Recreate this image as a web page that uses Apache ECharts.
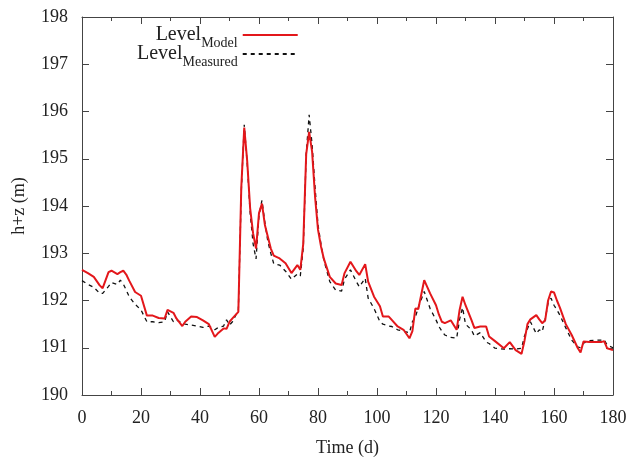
<!DOCTYPE html>
<html>
<head>
<meta charset="utf-8">
<script src="https://cdn.jsdelivr.net/npm/echarts@6/dist/echarts.min.js"></script>
<style>
html,body{margin:0;padding:0;background:#fff;}
#chart{width:631px;height:457px;}
</style>
</head>
<body>
<div id="chart"></div>
<script>
// 时间（天）
var days = [0,2,4,6,7,9,10,12,13,14,15,16,18,20,22,24,26,28,29,31,32,34,35,37,39,41,43,45,46,48,49,50,51,53,
    54,55,56,57,58,59,60,61,62,63,64,65,67,69,71,73,74,75,76,77,78,79,80,81,82,84,86,88,89,91,93,94,96,97,99,
    101,102,104,105,107,109,111,112,113,114,116,118,120,121,122,123,125,127,128,129,130,132,133,135,137,138,
    140,143,145,147,149,150,151,152,154,155,156,157,158,159,160,161,162,164,166,168,169,170,172,174,176,177,178,180];
// 模型水位
var levelModel = [192.65,192.58,192.50,192.32,192.26,192.60,192.63,192.56,192.60,192.63,192.55,192.42,192.18,192.10,191.68,191.68,191.63,191.62,191.80,191.74,191.62,191.46,191.55,191.66,191.65,191.58,191.50,191.23,191.30,191.41,191.40,191.55,191.62,191.76,
    194.40,195.66,194.95,193.95,193.42,193.10,193.85,194.05,193.60,193.35,193.10,192.95,192.89,192.79,192.58,192.75,192.65,193.20,195.10,195.57,195.15,194.20,193.50,193.15,192.88,192.50,192.36,192.33,192.58,192.82,192.62,192.54,192.77,192.40,192.08,
    191.88,191.66,191.66,191.59,191.45,191.38,191.20,191.35,191.83,191.82,192.43,192.15,191.90,191.70,191.55,191.52,191.58,191.38,191.80,192.08,191.90,191.59,191.42,191.45,191.45,191.24,
    191.14,190.99,191.12,190.95,190.87,191.15,191.50,191.60,191.69,191.60,191.52,191.58,192.00,192.19,192.17,192.00,191.85,191.50,191.27,191.00,190.90,191.13,191.12,191.12,191.12,191.14,190.99,190.95];
// 实测水位
var levelMeasured = [192.42,192.34,192.28,192.15,192.15,192.30,192.38,192.34,192.43,192.35,192.22,192.08,191.92,191.80,191.55,191.55,191.53,191.55,191.76,191.55,191.59,191.52,191.50,191.48,191.46,191.43,191.46,191.38,191.42,191.46,191.59,191.48,191.55,191.80,
    194.30,195.72,194.90,193.85,193.20,192.88,193.80,194.12,193.65,193.25,193.00,192.78,192.75,192.62,192.45,192.56,192.52,193.10,195.10,195.93,195.30,194.40,193.60,193.20,192.85,192.40,192.22,192.20,192.45,192.65,192.40,192.29,192.47,192.05,191.83,
    191.55,191.50,191.46,191.45,191.38,191.35,191.32,191.55,191.65,191.85,192.19,191.83,191.59,191.45,191.35,191.27,191.22,191.20,191.60,191.85,191.50,191.38,191.25,191.32,191.12,191.09,
    190.99,190.97,190.98,190.97,190.99,191.25,191.40,191.55,191.30,191.38,191.34,191.60,191.95,192.05,191.90,191.80,191.69,191.42,191.16,191.02,191.00,191.10,191.15,191.16,191.16,191.17,191.06,191.00];

var xTicks = [0,180,20];   // min, max, interval
var yTicks = [190,198,1];

function pairs(xs, ys){
    var out = [];
    for (var i = 0; i < xs.length; i++) { out.push([xs[i], ys[i]]); }
    return out;
}

var chart = echarts.init(document.getElementById('chart'));
var serif = '"Liberation Serif","DejaVu Serif",serif';
var axisColor = '#444';

var baseX = {
    type: 'value', min: xTicks[0], max: xTicks[1], interval: xTicks[2],
    axisLine: {show: true, onZero: false, lineStyle: {color: axisColor, width: 1}},
    axisTick: {show: true, inside: true, length: 7, lineStyle: {color: axisColor}},
    minorTick: {show: true, splitNumber: 2, length: 4, lineStyle: {color: axisColor}},
    splitLine: {show: false}
};
var baseY = {
    type: 'value', min: yTicks[0], max: yTicks[1], interval: yTicks[2],
    axisLine: {show: true, onZero: false, lineStyle: {color: axisColor, width: 1}},
    axisTick: {show: true, inside: true, length: 7, lineStyle: {color: axisColor}},
    splitLine: {show: false}
};

var option = {
    animation: false,
    backgroundColor: '#fff',
    grid: {left: 82, right: 18, top: 17, bottom: 62, show: false, outerBoundsMode: 'none', containLabel: false},
    legend: {
        orient: 'vertical', align: 'right',
        left: 132, top: 20, itemGap: -6, itemWidth: 55, itemHeight: 14,
        itemStyle: {opacity: 0},
        textStyle: {
            fontFamily: serif, color: '#222',
            rich: {
                a: {fontSize: 20, fontFamily: serif, color: '#222', verticalAlign: 'bottom'},
                b: {fontSize: 14, fontFamily: serif, color: '#222', verticalAlign: 'bottom', padding: [0, 0, -5, 0]}
            }
        },
        formatter: function(name){
            return '{a|Level}{b|' + name.replace('Level', '') + '}';
        },
        data: ['LevelModel', 'LevelMeasured']
    },
    xAxis: [
        echarts.util.merge({
            position: 'bottom',
            name: 'Time (d)', nameLocation: 'middle', nameGap: 44,
            nameTextStyle: {fontFamily: serif, fontSize: 18, color: '#222'},
            axisLabel: {fontFamily: serif, fontSize: 18, color: '#222', margin: 14}
        }, baseX, true),
        echarts.util.merge({position: 'top', axisLabel: {show: false}}, baseX, true)
    ],
    yAxis: [
        echarts.util.merge({
            position: 'left',
            name: 'h+z (m)', nameLocation: 'middle', nameGap: 54, nameRotate: 90,
            nameTextStyle: {fontFamily: serif, fontSize: 18, color: '#222'},
            axisLabel: {fontFamily: serif, fontSize: 18, color: '#222', margin: 14}
        }, baseY, true),
        echarts.util.merge({position: 'right', axisLabel: {show: false}}, baseY, true)
    ],
    series: [
        {
            name: 'LevelModel', type: 'line', xAxisIndex: 0, yAxisIndex: 0,
            data: pairs(days, levelModel), showSymbol: false, symbol: 'none',
            lineStyle: {color: '#e3171b', width: 2},
            itemStyle: {color: '#e3171b'}, z: 3
        },
        {
            name: 'LevelMeasured', type: 'line', xAxisIndex: 0, yAxisIndex: 0,
            data: pairs(days, levelMeasured), showSymbol: false, symbol: 'none',
            lineStyle: {color: '#111', width: 1.3, type: [4, 4]},
            itemStyle: {color: '#111'}, z: 2
        }
    ]
};
chart.setOption(option);
</script>
</body>
</html>
